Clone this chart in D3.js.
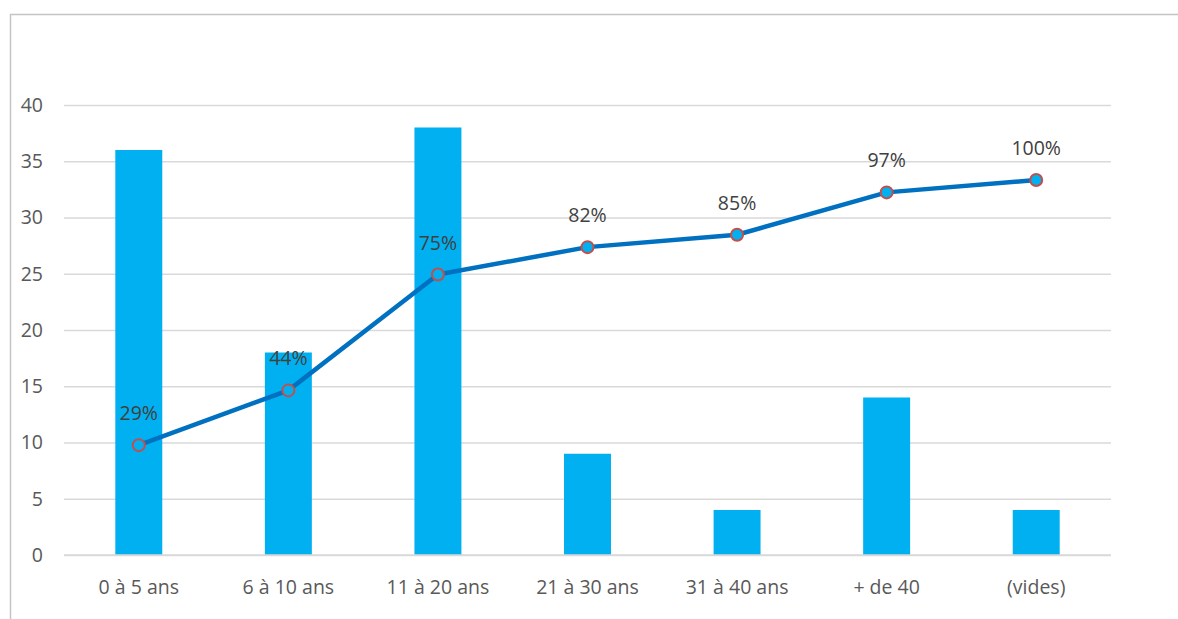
<!DOCTYPE html>
<html>
<head>
<meta charset="utf-8">
<script src="https://cdn.jsdelivr.net/npm/d3@7"></script>
<style>
  html, body { margin: 0; padding: 0; background: #fff; }
  svg { display: block; }
</style>
</head>
<body>
<div id="chart"></div>
<script>
// data
const categories = ["0 à 5 ans", "6 à 10 ans", "11 à 20 ans", "21 à 30 ans", "31 à 40 ans", "+ de 40", "(vides)"];
const counts = [36, 18, 38, 9, 4, 14, 4];
const cumulPct = [29.3, 43.9, 74.8, 82.1, 85.4, 96.7, 100];
const pctLabels = ["29%", "44%", "75%", "82%", "85%", "97%", "100%"];
const yTicks = [0, 5, 10, 15, 20, 25, 30, 35, 40];

const width = 1178, height = 619;
let margin = ({ top: 105, right: 67, bottom: 64, left: 64 });
const font = "'Open Sans', sans-serif";
const fontSize = "19.5px";

const svg = d3.select("#chart")
    .append("svg")
    .attr("width", width)
    .attr("height", height);

// chart frame (runs off the right and bottom edges)
svg.append("rect")
    .attr("x", 10.5)
    .attr("y", 14.5)
    .attr("width", width)
    .attr("height", height)
    .attr("fill", "none")
    .attr("stroke", "#c4c4c4")
    .attr("stroke-width", 1.5);

let x = d3.scaleBand()
    .domain(categories)
    .range([margin.left, width - margin.right])
    .paddingInner(0.686)
    .paddingOuter(0.343);

let y = d3.scaleLinear()
    .domain([0, 40])
    .range([height - margin.bottom, margin.top]);

// hidden secondary axis for the cumulative line
let y2 = d3.scaleLinear()
    .domain([0, 120])
    .range([height - margin.bottom, margin.top]);

// gridlines
let grid = svg.append("g")
    .attr("transform", `translate(${margin.left},0)`)
    .call(d3.axisLeft(y).tickValues(yTicks).tickSize(-(width - margin.left - margin.right)).tickFormat(""));
grid.select(".domain").remove();
grid.selectAll("line")
    .attr("stroke", "#d9d9d9")
    .attr("stroke-width", 1.5);

// y labels
let yAxis = svg.append("g")
    .attr("transform", `translate(${margin.left - 21},0)`)
    .call(d3.axisLeft(y).tickValues(yTicks).tickSize(0).tickPadding(0));
yAxis.select(".domain").remove();
yAxis.selectAll("text")
    .style("font-family", font)
    .style("font-size", fontSize)
    .attr("fill", "#595959");

// bars
svg.append("g")
    .attr("fill", "#00b0f0")
    .selectAll("rect")
    .data(counts)
    .join("rect")
    .attr("x", (d, i) => x(categories[i]))
    .attr("y", d => y(d))
    .attr("width", x.bandwidth())
    .attr("height", d => y(0) - y(d));

// x axis
let xAxis = svg.append("g")
    .attr("transform", `translate(0,${height - margin.bottom})`)
    .call(d3.axisBottom(x).tickSize(0).tickPadding(25).tickSizeOuter(0));
xAxis.select(".domain")
    .attr("stroke", "#d9d9d9")
    .attr("stroke-width", 1.5)
    .attr("d", `M${margin.left},0H${width - margin.right}`);
xAxis.selectAll("text")
    .style("font-family", font)
    .style("font-size", fontSize)
    .attr("fill", "#595959");

// cumulative line
let cx = i => x(categories[i]) + x.bandwidth() / 2;
let line = d3.line()
    .x((d, i) => cx(i))
    .y(d => y2(d));

svg.append("path")
    .datum(cumulPct)
    .attr("fill", "none")
    .attr("stroke", "#0070c0")
    .attr("stroke-width", 4.5)
    .attr("stroke-linejoin", "round")
    .attr("d", line);

svg.append("g")
    .selectAll("circle")
    .data(cumulPct)
    .join("circle")
    .attr("cx", (d, i) => cx(i))
    .attr("cy", d => y2(d))
    .attr("r", 6)
    .attr("fill", "#00b0f0")
    .attr("stroke", "#c0504d")
    .attr("stroke-width", 2);

// percent labels
svg.append("g")
    .selectAll("text")
    .data(cumulPct)
    .join("text")
    .attr("x", (d, i) => cx(i))
    .attr("y", d => y2(d) - 25)
    .attr("text-anchor", "middle")
    .style("font-family", font)
    .style("font-size", fontSize)
    .attr("fill", "#404040")
    .text((d, i) => pctLabels[i]);
</script>
</body>
</html>
